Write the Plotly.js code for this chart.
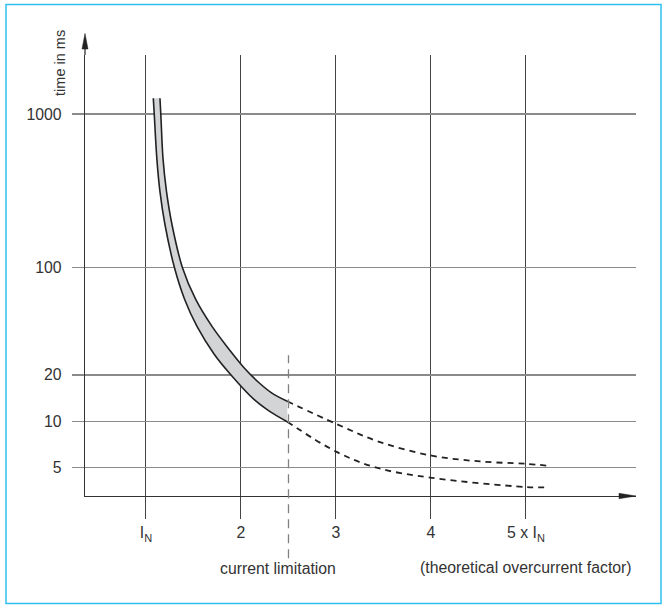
<!DOCTYPE html>
<html>
<head>
<meta charset="utf-8">
<script src="https://cdn.plot.ly/plotly-3.0.1.min.js"></script>
<style>html,body{margin:0;padding:0;background:#fff;}#chart{width:666px;height:606px;}</style>
</head>
<body>
<div id="chart"></div>
<script>
// Tripping band: lower-time boundary (left curve) and upper-time boundary (right curve)
const tminX = [1.077, 1.087, 1.114, 1.147, 1.200, 1.300, 1.405, 1.537, 1.716, 1.895, 2.137, 2.290, 2.487];
const tminY = [1266, 995, 514, 312, 190, 99.7, 62.5, 41.4, 27.4, 20.0, 13.86, 11.73, 9.92];
const tmaxX = [1.147, 1.156, 1.179, 1.216, 1.274, 1.384, 1.521, 1.695, 1.874, 2.032, 2.190, 2.322, 2.487];
const tmaxY = [1266, 995, 514, 312, 190, 99.7, 62.5, 41.4, 29.4, 22.3, 17.8, 15.3, 13.48];
// Theoretical continuation beyond current limitation (dashed)
const upperDashX = [2.487, 3.007, 3.463, 4.007, 4.516, 4.997, 5.232];
const upperDashY = [13.48, 9.58, 7.31, 5.97, 5.47, 5.28, 5.13];
const lowerDashX = [2.487, 3.007, 3.428, 4.007, 4.997, 5.218];
const lowerDashY = [9.92, 6.31, 4.98, 4.28, 3.73, 3.71];
const currentLimit = 2.5;
// Tick labels
const xTickVals = [1, 2, 3, 4, 5];
const xTickText = ['I<sub>N</sub>', '2', '3', '4', '5 x I<sub>N</sub>'];
const yTickVals = [5, 10, 20, 100, 1000];
const yTickText = ['5', '10', '20', '100', '1000'];

const lineCol = '#222222';
const traces = [
  {x: tminX, y: tminY, type: 'scatter', mode: 'lines', line: {color: lineCol, width: 1.6, shape: 'spline', smoothing: 1}},
  {x: tmaxX, y: tmaxY, type: 'scatter', mode: 'lines', fill: 'tonexty', fillcolor: '#d3d4d6',
   line: {color: lineCol, width: 1.6, shape: 'spline', smoothing: 1}},
  {x: upperDashX, y: upperDashY, type: 'scatter', mode: 'lines', line: {color: lineCol, width: 1.8, dash: '6px,5px', shape: 'spline'}},
  {x: lowerDashX, y: lowerDashY, type: 'scatter', mode: 'lines', line: {color: lineCol, width: 1.8, dash: '6px,5px', shape: 'spline'}}
];

const fam = 'Liberation Sans, Arial, Helvetica, sans-serif';
const font = {family: fam, size: 15.8, color: '#333333'};

const layout = {
  width: 666, height: 606,
  margin: {l: 85, r: 30, t: 55, b: 110.3, pad: 0},
  paper_bgcolor: '#ffffff', plot_bgcolor: '#ffffff',
  showlegend: false,
  font: font,
  xaxis: {
    range: [0.358, 6.158], tickvals: xTickVals, ticktext: xTickText,
    showgrid: true, gridcolor: '#444444', gridwidth: 1,
    ticks: 'outside', ticklen: 22, tickcolor: '#444444', tickwidth: 1,
    showline: true, linecolor: '#333333', linewidth: 1.3,
    zeroline: false, fixedrange: true, tickfont: font
  },
  yaxis: {
    type: 'log', range: [0.513, 3.384], tickvals: yTickVals, ticktext: yTickText,
    showgrid: true, gridcolor: '#8a8a8a', gridwidth: 1.3,
    ticks: 'outside', ticklen: 12, tickcolor: '#8a8a8a', tickwidth: 1.3,
    ticklabelstandoff: 7,
    showline: true, linecolor: '#333333', linewidth: 1.3,
    zeroline: false, fixedrange: true, tickfont: font
  },
  shapes: [
    // frame
    {type: 'rect', xref: 'paper', yref: 'paper', x0: -0.1434, x1: 1.0454, y0: -0.2435, y1: 1.1143,
     line: {color: '#2ec0f0', width: 1.5}, fillcolor: 'rgba(0,0,0,0)', layer: 'below'},
    // current limitation marker
    {type: 'line', xref: 'x', yref: 'paper', x0: currentLimit, x1: currentLimit, y0: -0.141, y1: 0.319,
     line: {color: '#808080', width: 1.3, dash: '9px,6px'}},
    // y-axis extension and arrow head
    {type: 'line', xref: 'paper', yref: 'paper', x0: 0, x1: 0, y0: 1, y1: 1.02,
     line: {color: '#333333', width: 1.3}},
    {type: 'path', xref: 'paper', yref: 'paper', path: 'M -0.00544,1.0136 L 0,1.0488 L 0.00544,1.0136 Z',
     fillcolor: '#222222', line: {color: '#222222', width: 0.5}},
    // x-axis arrow head
    {type: 'path', xref: 'paper', yref: 'paper', path: 'M 0.9691,-0.0061 L 1,0 L 0.9691,0.0061 Z',
     fillcolor: '#222222', line: {color: '#222222', width: 0.5}}
  ],
  annotations: [
    {text: 'time in ms', xref: 'paper', yref: 'paper', x: -0.0454, y: 0.982, textangle: -90,
     showarrow: false, xanchor: 'center', yanchor: 'middle', font: {family: fam, size: 14.5, color: '#333333'}},
    {text: 'current limitation', xref: 'x', yref: 'paper', x: currentLimit, xshift: -10, y: -0.164,
     showarrow: false, xanchor: 'center', yanchor: 'middle', font: font},
    {text: '(theoretical overcurrent factor)', xref: 'x', yref: 'paper', x: 5, y: -0.162,
     showarrow: false, xanchor: 'center', yanchor: 'middle', font: font}
  ]
};

Plotly.newPlot('chart', traces, layout, {displayModeBar: false, staticPlot: true});
</script>
</body>
</html>
